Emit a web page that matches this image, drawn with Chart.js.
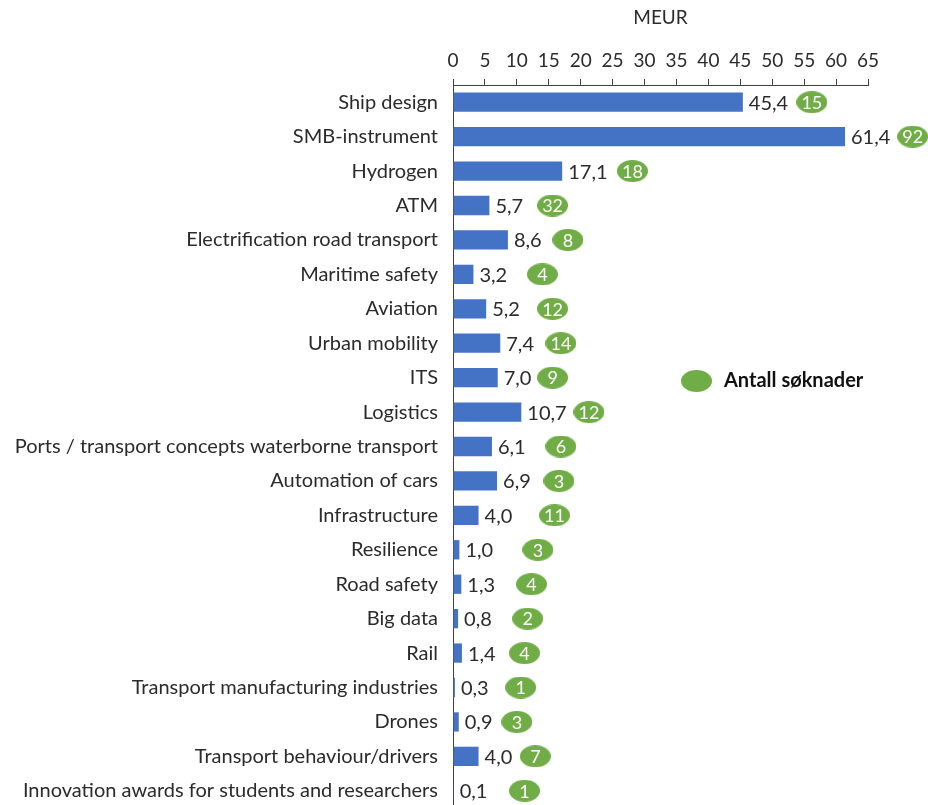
<!DOCTYPE html>
<html>
<head>
<meta charset="utf-8">
<script src="https://cdn.jsdelivr.net/npm/chart.js@4/dist/chart.umd.min.js"></script>
<style>
  html, body { margin: 0; padding: 0; background: #ffffff; overflow: hidden; }
  canvas { display: block; }
</style>
</head>
<body>
<canvas id="chart" width="928" height="812"></canvas>
<script>
// Programme areas, funding (MEUR) and number of applications
const categories = [
  'Ship design',
  'SMB-instrument',
  'Hydrogen',
  'ATM',
  'Electrification road transport',
  'Maritime safety',
  'Aviation',
  'Urban mobility',
  'ITS',
  'Logistics',
  'Ports / transport concepts waterborne transport',
  'Automation of cars',
  'Infrastructure',
  'Resilience',
  'Road safety',
  'Big data',
  'Rail',
  'Transport manufacturing industries',
  'Drones',
  'Transport behaviour/drivers',
  'Innovation awards for students and researchers'
];

const funding = [45.4, 61.4, 17.1, 5.7, 8.6, 3.2, 5.2, 7.4, 7.0, 10.7, 6.1, 6.9, 4.0, 1.0, 1.3, 0.8, 1.4, 0.3, 0.9, 4.0, 0.1];

const applications = [15, 92, 18, 32, 8, 4, 12, 14, 9, 12, 6, 3, 11, 3, 4, 2, 4, 1, 3, 7, 1];

// x value of each application-count marker on the MEUR scale
const applicationMarkerX = [56.2, 72.0, 28.1, 15.6, 18.0, 14.0, 15.6, 16.9, 15.6, 21.3, 16.9, 16.6, 15.9, 13.3, 12.3, 11.7, 11.2, 10.6, 10.0, 12.9, 11.2];

const axisTitle = 'MEUR';
const legendLabel = 'Antall søknader';
const axisMin = 0;
const axisMax = 65;
const axisStep = 5;

const FONT = 'Lato, "Liberation Sans", sans-serif';
const TEXT = '#2b2b2b';
const BLUE = '#4472C4';
const GREEN = '#70AD47';
const AXIS = '#404040';

const fmt = v => v.toFixed(1).replace('.', ',');

function ellipseMarker(w, h, color) {
  const c = document.createElement('canvas');
  c.width = w; c.height = h;
  const g = c.getContext('2d');
  g.fillStyle = color;
  g.beginPath();
  g.ellipse(w / 2, h / 2, w / 2, h / 2, 0, 0, Math.PI * 2);
  g.fill();
  return c;
}
const marker = ellipseMarker(31, 22, GREEN);

// Funding value printed just past the end of every bar
const barValueLabels = {
  id: 'barValueLabels',
  afterDatasetsDraw(chart) {
    const meta = chart.getDatasetMeta(0);
    const ctx = chart.ctx;
    ctx.save();
    ctx.font = '20px ' + FONT;
    ctx.fillStyle = TEXT;
    ctx.textAlign = 'left';
    ctx.textBaseline = 'middle';
    meta.data.forEach((bar, i) => {
      ctx.fillText(fmt(chart.data.datasets[0].data[i]), bar.x + 6, bar.y + 1);
    });
    ctx.restore();
  }
};

// Markers that sit past the right end of the axis are not painted by the
// point element itself, so they are painted here at the element position;
// then every marker gets its application count written inside.
const markerLabels = {
  id: 'markerLabels',
  afterDatasetsDraw(chart) {
    const meta = chart.getDatasetMeta(1);
    const area = chart.chartArea;
    const ctx = chart.ctx;
    ctx.save();
    meta.data.forEach(pt => {
      if (pt.x > area.right) ctx.drawImage(marker, pt.x - marker.width / 2, pt.y - marker.height / 2);
    });
    ctx.font = '18px ' + FONT;
    ctx.fillStyle = '#ffffff';
    ctx.textAlign = 'center';
    ctx.textBaseline = 'middle';
    meta.data.forEach((pt, i) => {
      ctx.fillText(String(applications[i]), pt.x, pt.y + 1);
    });
    ctx.restore();
  }
};

// Legend entry for the marker series, placed inside the plot
const markerLegend = {
  id: 'markerLegend',
  afterDraw(chart) {
    const ctx = chart.ctx;
    const cx = 696.5, cy = 381;
    ctx.save();
    ctx.drawImage(marker, cx - marker.width / 2, cy - marker.height / 2);
    ctx.font = 'bold 20px ' + FONT;
    ctx.fillStyle = '#111111';
    ctx.textAlign = 'left';
    ctx.textBaseline = 'middle';
    ctx.fillText(chart.data.datasets[1].label, 724, cy);
    ctx.restore();
  }
};

new Chart(document.getElementById('chart'), {
  type: 'bar',
  data: {
    labels: categories,
    datasets: [
      {
        label: axisTitle,
        data: funding,
        backgroundColor: BLUE,
        borderWidth: 0,
        categoryPercentage: 0.56,
        barPercentage: 1.0,
        order: 2
      },
      {
        type: 'scatter',
        label: legendLabel,
        indexAxis: 'y',
        data: categories.map((c, i) => ({ x: applicationMarkerX[i], y: c })),
        pointStyle: marker,
        pointRadius: 1,
        pointBorderWidth: 0,
        pointHitRadius: 0,
        clip: false,
        order: 1
      }
    ]
  },
  options: {
    indexAxis: 'y',
    responsive: false,
    animation: false,
    devicePixelRatio: 1,
    layout: { padding: { left: 0, right: 60, top: 0, bottom: 0 } },
    plugins: {
      legend: { display: false },
      tooltip: { enabled: false }
    },
    scales: {
      x: {
        position: 'top',
        min: axisMin,
        max: axisMax,
        ticks: {
          stepSize: axisStep,
          font: { family: FONT, size: 19 },
          color: TEXT,
          padding: 7,
          maxRotation: 0
        },
        grid: {
          drawOnChartArea: false,
          drawTicks: true,
          tickLength: 6,
          color: AXIS
        },
        border: { display: true, color: AXIS, width: 1 },
        title: {
          display: true,
          text: axisTitle,
          font: { family: FONT, size: 19 },
          color: TEXT,
          padding: { top: 6, bottom: 0 }
        },
        afterFit(scale) { scale.height = 85; }
      },
      y: {
        ticks: {
          font: { family: FONT, size: 20 },
          color: TEXT,
          padding: 15,
          autoSkip: false
        },
        grid: { display: false, drawTicks: false },
        border: { display: true, color: AXIS, width: 1 },
        afterFit(scale) {
          scale.width = 453;
          scale.paddingTop = 0;
          scale.paddingBottom = 0;
        }
      }
    }
  },
  plugins: [barValueLabels, markerLabels, markerLegend]
});
</script>
</body>
</html>
